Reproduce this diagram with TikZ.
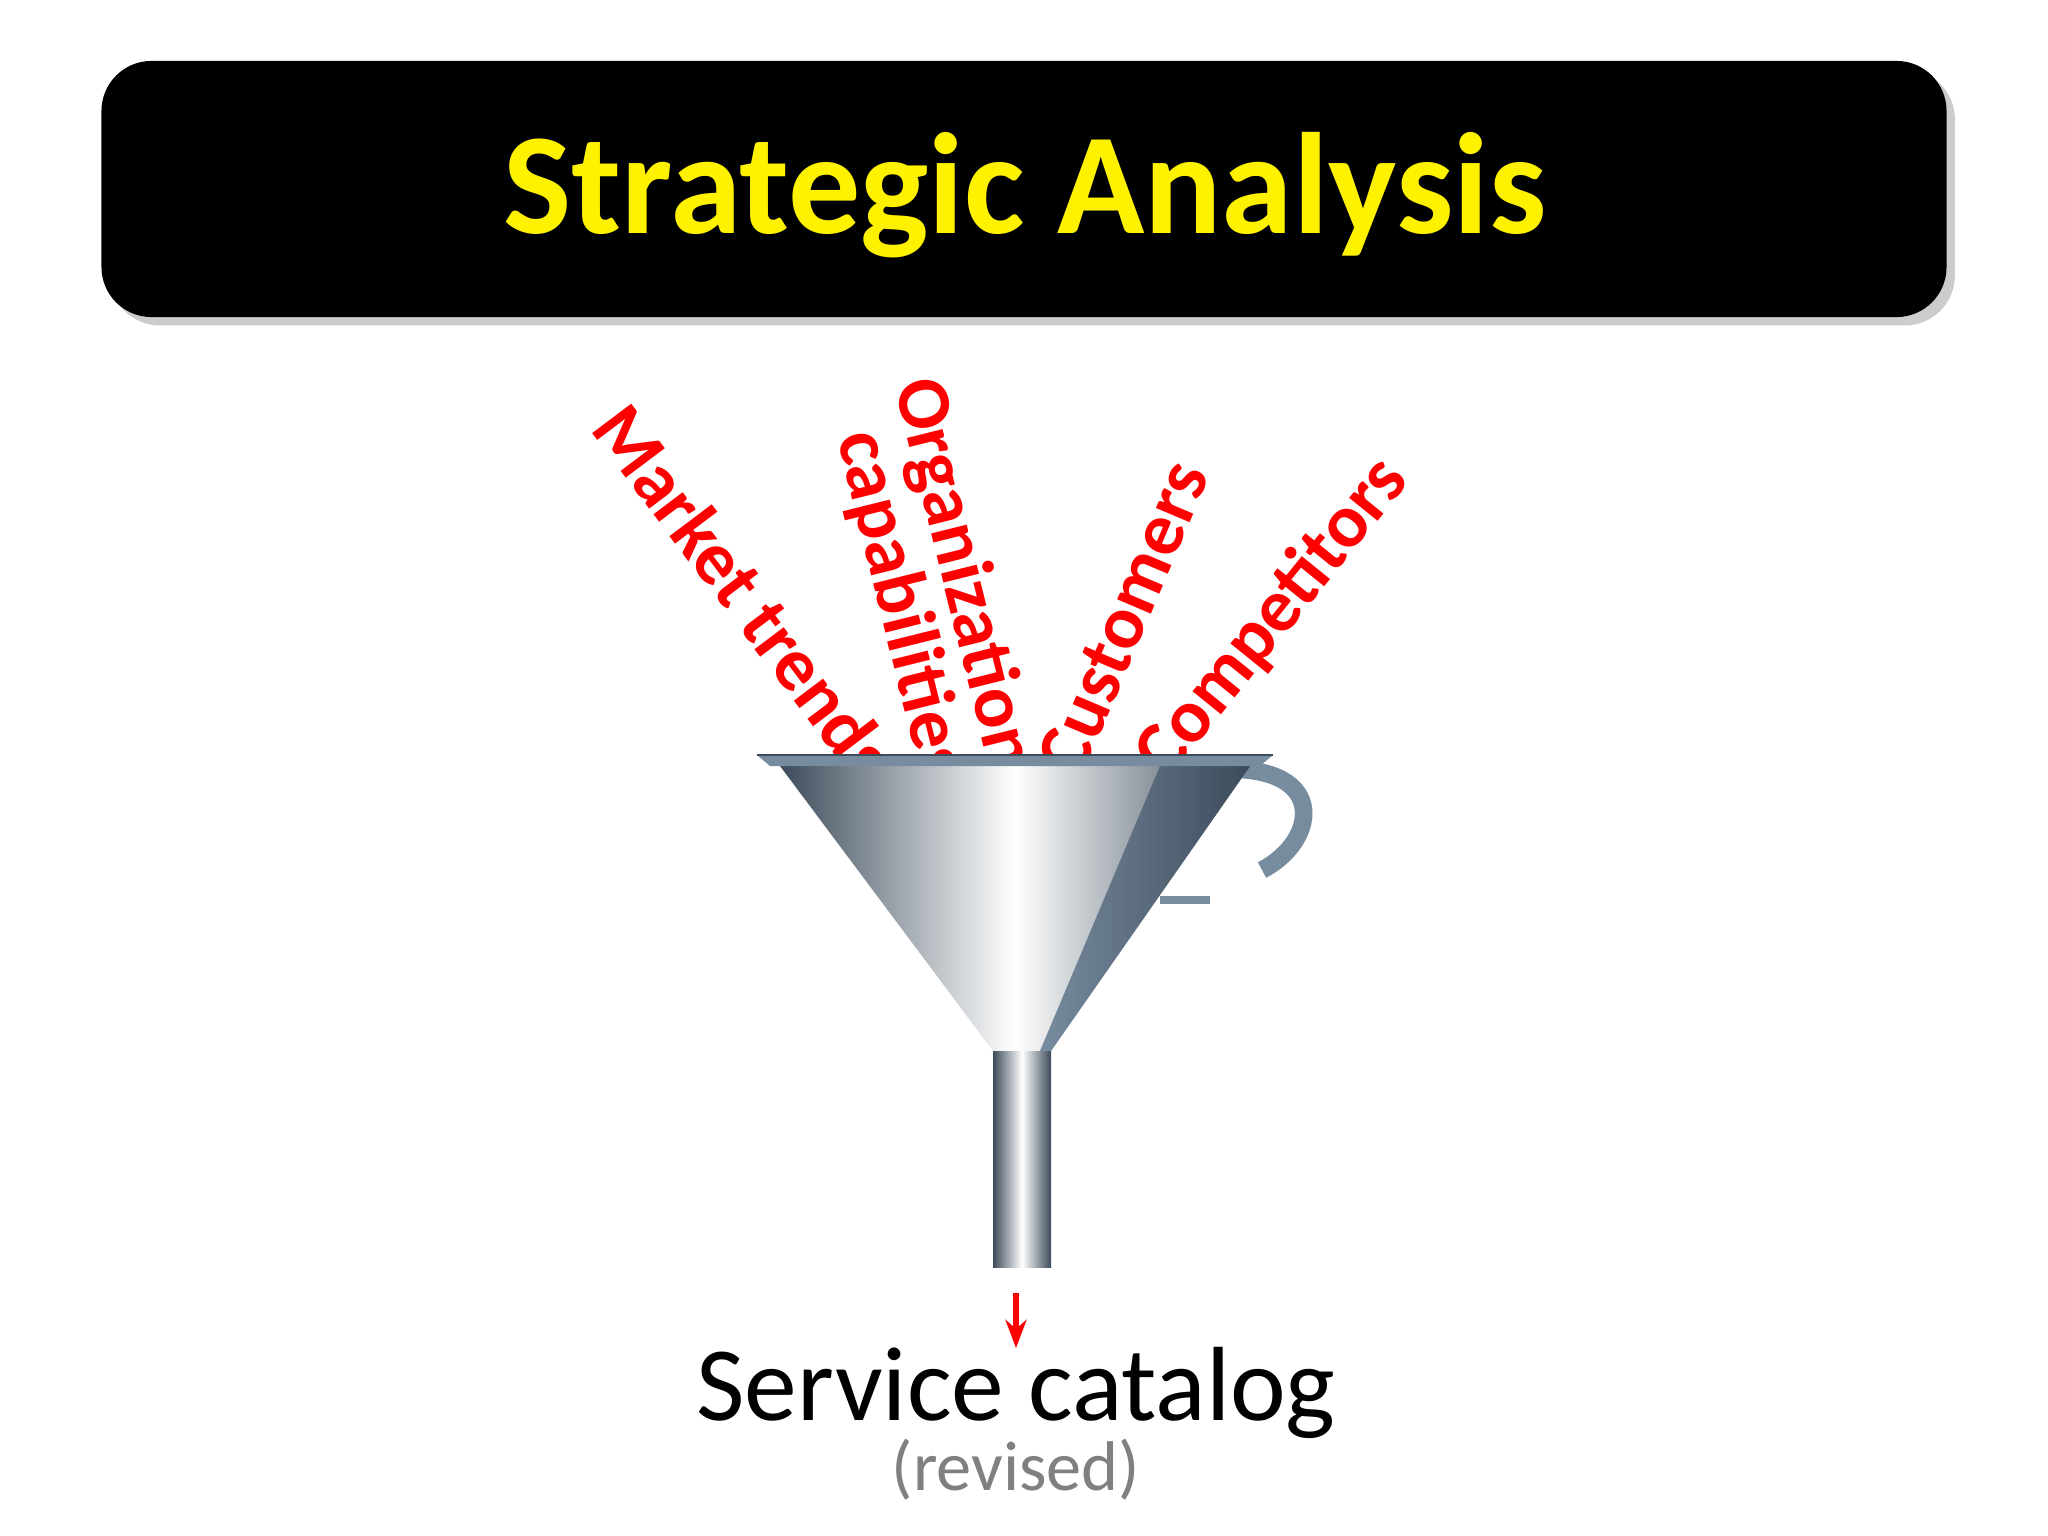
\documentclass[tikz,border=0pt]{standalone}
\usepackage{fontspec}
\setmainfont{Carlito}
\usetikzlibrary{arrows.meta,shadows}
\definecolor{mdark}{RGB}{60,75,90}
\definecolor{mmid}{RGB}{120,140,160}
\begin{document}
\begin{tikzpicture}[x=0.01cm,y=-0.01cm,
  lbl/.style={text=red,font=\bfseries\fontsize{21.5}{23}\selectfont,inner sep=0pt},
  metal/.style={left color=mdark,right color=mdark,middle color=white}]
\useasboundingbox (0,0) rectangle (2048,1536);
\fill[white] (0,0) rectangle (2048,1536);
\node[fill=black,rounded corners=0.5cm,minimum width=18.44cm,minimum height=2.56cm,drop shadow={opacity=0.4}] (title) at (1024,189) {};
\node[text=yellow,font=\bfseries\fontsize{41}{45}\selectfont] (tt) at (1025,195) {Strategic Analysis};
% labels
\node[lbl,rotate=-53] (mt) at (745,592) {Market trends};
\node[lbl,rotate=-76] (org) at (962,574) {Organization};
\node[lbl,rotate=-76] (cap) at (900,605) {capabilities};
\node[lbl,rotate=67] (cu) at (1123,618) {Customers};
\node[lbl,rotate=51] (co) at (1273,618) {Competitors};
% funnel
\draw[line width=5pt,mmid] (1210,770) .. controls (1330,760) and (1320,840) .. (1262,870);
\draw[line width=2pt,mmid] (1160,900) -- (1210,900);
\path[metal] (780,766) -- (1250,766) -- (1051,1051) -- (993,1051) -- cycle;
\path[left color=mmid,right color=mdark] (1160,766) -- (1250,766) -- (1051,1051) -- (1040,1051) -- cycle;
\path[metal] (993,1051) rectangle (1051,1267);
\fill[mmid] (757,755) -- (1273,755) -- (1260,766) -- (770,766) -- cycle;
\draw[mdark] (757,755) -- (1273,755);
% output
\coordinate (a1) at (1016,1293);
\node[font=\fontsize{30}{34}\selectfont,inner sep=0pt] (sc) at (1016,1393) {Service catalog};
\node[text=gray,font=\fontsize{20}{23}\selectfont,inner sep=0pt] (rv) at (1016,1470) {(revised)};
\draw[red,line width=1.5pt,-{Stealth[length=8pt]}] (a1) -- (1016,1348);
\end{tikzpicture}
\end{document}
